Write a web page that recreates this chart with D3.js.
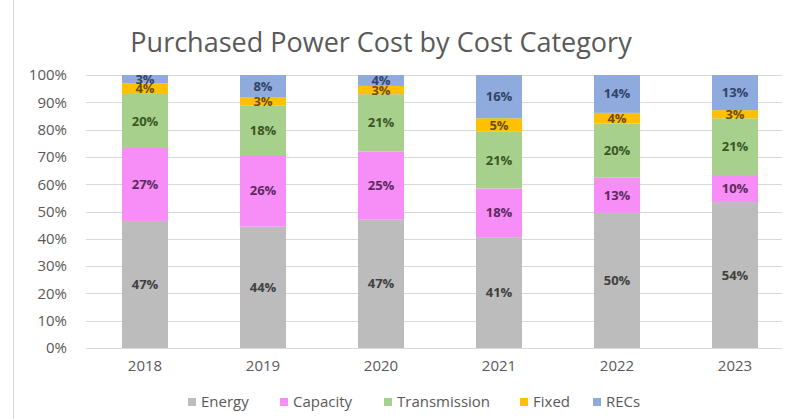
<!DOCTYPE html>
<html>
<head>
<meta charset="utf-8">
<script src="https://cdn.jsdelivr.net/npm/d3@7"></script>
<style>
  body { margin: 0; background: #fff; }
  text { font-family: "Open Sans", "Noto Sans", sans-serif; }
</style>
</head>
<body>
<div id="chart"></div>
<script>
  var years = ["2018", "2019", "2020", "2021", "2022", "2023"];
  var categories = ["Energy", "Capacity", "Transmission", "Fixed", "RECs"];
  var energy       = [47, 44, 47, 41, 50, 54];
  var capacity     = [27, 26, 25, 18, 13, 10];
  var transmission = [20, 18, 21, 21, 20, 21];
  var fixed        = [4, 3, 3, 5, 4, 3];
  var recs         = [3, 8, 4, 16, 14, 13];
  var yTicks = [0, 0.1, 0.2, 0.3, 0.4, 0.5, 0.6, 0.7, 0.8, 0.9, 1];

  var colors = ["#bcbcbc", "#f78ef7", "#a8d08d", "#ffc000", "#8faadc"];
  var labelColors = ["#404040", "#5c2a5c", "#385723", "#6b4f00", "#2f4468"];

  var width = 800, height = 419;
  var margin = {top: 75, right: 6, bottom: 71, left: 86};

  var rows = years.map(function(y, i) {
    return {year: y, Energy: energy[i], Capacity: capacity[i], Transmission: transmission[i], Fixed: fixed[i], RECs: recs[i]};
  });

  // excel-style 100% stack
  var series = d3.stack().keys(categories).offset(d3.stackOffsetExpand)(rows);

  var svg = d3.select("#chart").append("svg")
    .attr("width", width)
    .attr("height", height);

  // chart frame
  svg.append("rect")
    .attr("x", 13.5).attr("y", -1)
    .attr("width", width).attr("height", height + 2)
    .attr("fill", "none").attr("stroke", "#d9d9d9");

  svg.append("text")
    .attr("x", 381).attr("y", 52)
    .attr("text-anchor", "middle")
    .attr("fill", "#595959")
    .style("font-size", "27px")
    .text("Purchased Power Cost by Cost Category");

  var x = d3.scaleBand().domain(years)
    .range([margin.left, width - margin.right])
    .paddingInner(0.61).paddingOuter(0.305);

  var y = d3.scaleLinear().domain([0, 1])
    .range([height - margin.bottom, margin.top]);

  var g = svg.append("g");

  // gridlines
  g.append("g")
    .selectAll("line")
    .data(yTicks)
    .enter().append("line")
    .attr("x1", margin.left).attr("x2", width - 18)
    .attr("y1", function(d) { return Math.round(y(d)) + 0.5; })
    .attr("y2", function(d) { return Math.round(y(d)) + 0.5; })
    .attr("stroke", "#d9d9d9");

  var yAxis = d3.axisLeft(y).tickValues(yTicks).tickFormat(d3.format(".0%")).tickSize(0).tickPadding(19);
  g.append("g")
    .attr("transform", "translate(" + margin.left + ",0)")
    .call(yAxis)
    .call(function(s) { s.select(".domain").remove(); })
    .selectAll("text")
    .attr("fill", "#595959")
    .style("font-size", "15px");

  var xAxis = d3.axisBottom(x).tickSize(0).tickPadding(12);
  g.append("g")
    .attr("transform", "translate(0," + y(0) + ")")
    .call(xAxis)
    .call(function(s) { s.select(".domain").remove(); })
    .selectAll("text")
    .attr("fill", "#595959")
    .style("font-size", "15px");

  // bars
  var layers = g.selectAll(".layer")
    .data(series)
    .enter().append("g")
    .attr("class", "layer")
    .attr("fill", function(d, i) { return colors[i]; });

  layers.selectAll("rect")
    .data(function(d) { return d; })
    .enter().append("rect")
    .attr("x", function(d) { return x(d.data.year); })
    .attr("y", function(d) { return y(d[1]); })
    .attr("height", function(d) { return y(d[0]) - y(d[1]); })
    .attr("width", x.bandwidth());

  // data labels
  series.forEach(function(s, i) {
    g.append("g").selectAll("text")
      .data(s)
      .enter().append("text")
      .attr("x", function(d) { return x(d.data.year) + x.bandwidth() / 2; })
      .attr("y", function(d) { return (y(d[0]) + y(d[1])) / 2; })
      .attr("dy", "0.35em")
      .attr("text-anchor", "middle")
      .attr("fill", labelColors[i])
      .style("font-size", "13px")
      .style("font-weight", "bold")
      .text(function(d) { return d.data[s.key] + "%"; });
  });

  // legend
  var legendX = [188, 280, 384, 520, 593];
  var legend = svg.append("g").selectAll("g")
    .data(categories)
    .enter().append("g")
    .attr("transform", function(d, i) { return "translate(" + legendX[i] + ",402)"; });

  legend.append("rect")
    .attr("x", 0).attr("y", -4)
    .attr("width", 8).attr("height", 8)
    .attr("fill", function(d, i) { return colors[i]; });

  legend.append("text")
    .attr("x", 13).attr("dy", "0.35em")
    .attr("fill", "#595959")
    .style("font-size", "15px")
    .text(function(d) { return d; });
</script>
</body>
</html>
